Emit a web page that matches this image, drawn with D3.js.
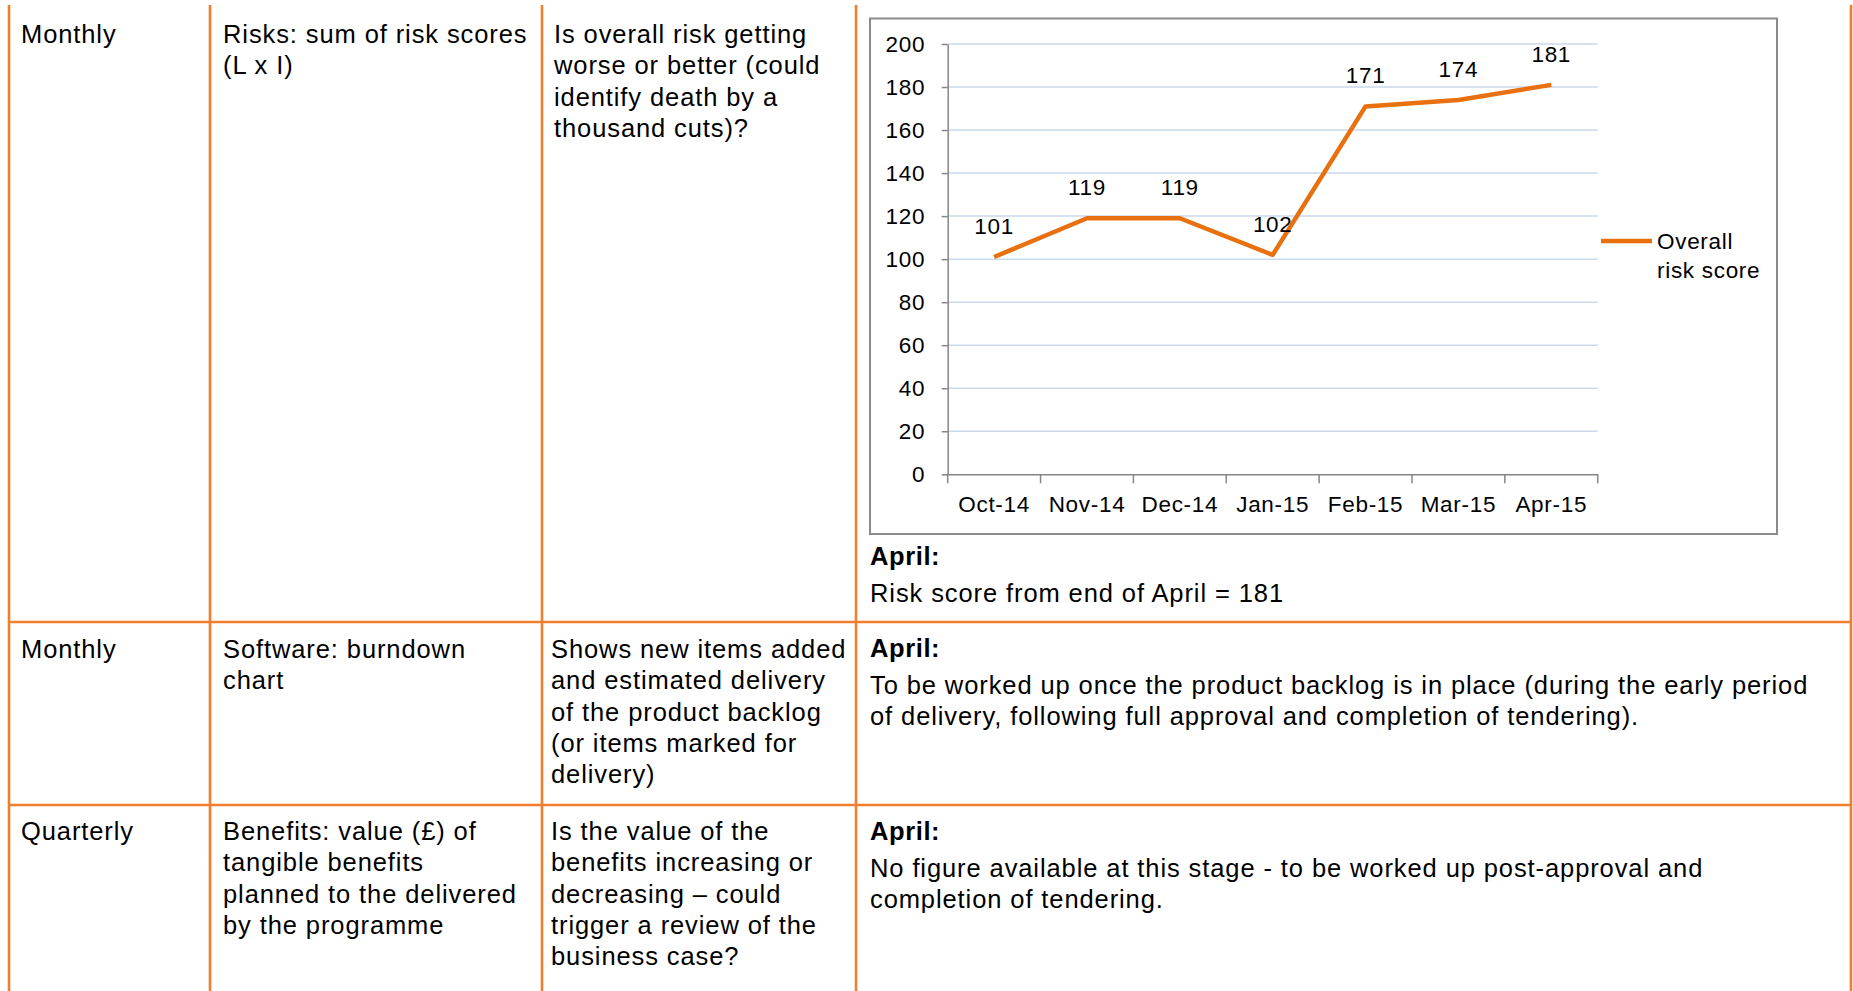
<!DOCTYPE html>
<html lang="en">
<head>
  <meta charset="UTF-8">
  <title>Overall risk score</title>
  <script src="https://d3js.org/d3.v7.min.js"></script>
  <style>
    body { margin: 0; background: #fff; }
    svg { display: block; font-family: "Liberation Sans", Arial, sans-serif; }
    .cell { font-size: 25.5px; letter-spacing: 0.9px; fill: #000; }
    .cell.bold { font-weight: bold; letter-spacing: 0.6px; }
    .chart text { font-size: 22.5px; letter-spacing: 0.7px; fill: #000; }
    .grid line { stroke: #c9d9ee; stroke-width: 1.5px; }
    .axis path, .axis line { stroke: #868686; stroke-width: 1.5px; }
    .series { fill: none; stroke: #e8700f; stroke-width: 4.5px; stroke-linejoin: round; }
    .rule { stroke: #ef7f2c; stroke-width: 2.6px; }
  </style>
</head>
<body>
  <div id="page"></div>
  <script>
    // chart data
    const months = ["Oct-14", "Nov-14", "Dec-14", "Jan-15", "Feb-15", "Mar-15", "Apr-15"];
    const riskScores = [101, 119, 119, 102, 171, 174, 181];
    const yTicks = [0, 20, 40, 60, 80, 100, 120, 140, 160, 180, 200];
    const legendLines = ["Overall", "risk score"];

    // table text (lines as wrapped in the document)
    const frequency = ["Monthly", "Monthly", "Quarterly"];
    const measure = [
      ["Risks: sum of risk scores", "(L x I)"],
      ["Software: burndown", "chart"],
      ["Benefits: value (£) of", "tangible benefits", "planned to the delivered", "by the programme"]
    ];
    const question = [
      ["Is overall risk getting", "worse or better (could", "identify death by a", "thousand cuts)?"],
      ["Shows new items added", "and estimated delivery", "of the product backlog", "(or items marked for", "delivery)"],
      ["Is the value of the", "benefits increasing or", "decreasing – could", "trigger a review of the", "business case?"]
    ];
    const notes = [
      ["Risk score from end of April = 181"],
      ["To be worked up once the product backlog is in place (during the early period", "of delivery, following full approval and completion of tendering)."],
      ["No figure available at this stage - to be worked up post-approval and", "completion of tendering."]
    ];

    const width = 1853, height = 991;
    const svg = d3.select("#page").append("svg")
      .attr("width", width)
      .attr("height", height);

    // table layout
    const colX = [9, 210, 542, 856, 1851];
    const rowTop = [5, 622, 805, 991];
    const textX = [21, 223, 551, 870];
    const firstBase = [43, 658, 840];
    const lineH = 31.3;

    colX.forEach(x => {
      svg.append("line").attr("class", "rule")
        .attr("x1", x).attr("x2", x)
        .attr("y1", rowTop[0]).attr("y2", height);
    });
    rowTop.slice(1, 3).forEach(y => {
      svg.append("line").attr("class", "rule")
        .attr("x1", colX[0]).attr("x2", colX[4])
        .attr("y1", y).attr("y2", y);
    });

    function block(lines, x, y0, dy) {
      const t = svg.append("text").attr("class", "cell").attr("x", x).attr("y", y0);
      lines.forEach((s, i) => {
        t.append("tspan").attr("x", x).attr("y", y0 + i * dy).text(s);
      });
    }

    frequency.forEach((f, r) => {
      block([f], textX[0], firstBase[r], lineH);
      block(measure[r], textX[1], firstBase[r], lineH);
      block(question[r], r === 0 ? textX[2] + 3 : textX[2], firstBase[r], lineH);
    });

    // "April:" notes in the last column
    const noteBase = [565, 657, 840];
    notes.forEach((lines, r) => {
      svg.append("text").attr("class", "cell bold")
        .attr("x", textX[3]).attr("y", noteBase[r]).text("April:");
      block(lines, textX[3], noteBase[r] + 36.7, lineH);
    });

    // chart frame
    const chart = svg.append("g").attr("class", "chart");
    chart.append("rect")
      .attr("x", 870).attr("y", 18.5)
      .attr("width", 907).attr("height", 515.5)
      .attr("fill", "#fff")
      .attr("stroke", "#8a8a8a")
      .attr("stroke-width", 2);

    const x = d3.scaleBand()
      .domain(months)
      .range([947.7, 1597.7]);

    const y = d3.scaleLinear()
      .domain([0, 200])
      .range([474.3, 44]);

    // gridlines
    chart.append("g").attr("class", "grid")
      .selectAll("line")
      .data(yTicks.filter(d => d > 0))
      .join("line")
      .attr("x1", x.range()[0]).attr("x2", x.range()[1])
      .attr("y1", d => y(d)).attr("y2", d => y(d));

    // y axis
    const yAxis = chart.append("g")
      .attr("class", "axis")
      .attr("transform", `translate(${x.range()[0]},0)`)
      .call(d3.axisLeft(y).tickValues(yTicks).tickSize(6).tickSizeOuter(0).tickPadding(16.5));
    yAxis.attr("font-family", null).attr("font-size", null);

    // x axis: labels at category centres, ticks at category boundaries
    const xAxis = chart.append("g")
      .attr("class", "axis")
      .attr("transform", `translate(0,${y(0)})`)
      .call(d3.axisBottom(x).tickSize(0).tickSizeOuter(0).tickPadding(21.5));
    xAxis.attr("font-family", null).attr("font-size", null);
    xAxis.selectAll(".tick line").remove();

    const bounds = months.map(m => x(m)).concat([x.range()[1]]);
    chart.append("g").attr("class", "axis")
      .selectAll("line")
      .data(bounds)
      .join("line")
      .attr("x1", d => d).attr("x2", d => d)
      .attr("y1", y(0)).attr("y2", y(0) + 9);

    // series line
    const pts = months.map((m, i) => ({ m, v: riskScores[i] }));
    const line = d3.line()
      .x(d => x(d.m) + x.bandwidth() / 2)
      .y(d => y(d.v));

    chart.append("path")
      .datum(pts)
      .attr("class", "series")
      .attr("d", line);

    // data labels
    chart.append("g")
      .selectAll("text")
      .data(pts)
      .join("text")
      .attr("x", d => x(d.m) + x.bandwidth() / 2)
      .attr("y", d => y(d.v) - 23)
      .attr("text-anchor", "middle")
      .text(d => d.v);

    // legend
    chart.append("line")
      .attr("class", "series")
      .attr("x1", 1601).attr("x2", 1652)
      .attr("y1", 241).attr("y2", 241);
    const lg = chart.append("text").attr("x", 1657).attr("y", 249);
    legendLines.forEach((s, i) => {
      lg.append("tspan").attr("x", 1657).attr("y", 249 + i * 29).text(s);
    });
  </script>
</body>
</html>
